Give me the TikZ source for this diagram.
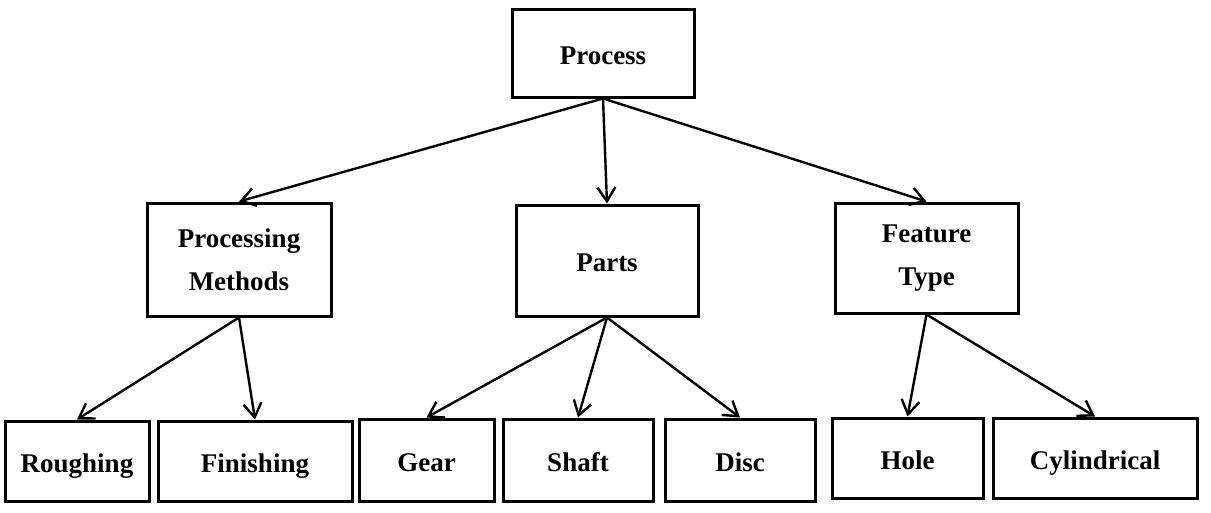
\documentclass[tikz,border=0pt]{standalone}
\usepackage{fontspec}
\setmainfont{Liberation Serif}
\usetikzlibrary{arrows.meta}
\begin{document}
\begin{tikzpicture}[x=1pt,y=-1pt,
  box/.style={draw=black, line width=3pt, rectangle, inner sep=0pt, align=center,
    font=\fontsize{27}{43}\selectfont\bfseries, text=black},
  one/.style={text height=22pt, text depth=0pt},
  conn/.style={line width=2.4pt, -{Straight Barb[length=14pt,width=18pt,line width=2.4pt]}}]
\useasboundingbox (0,0) rectangle (1211,512);
\node[box, one, minimum width=182pt, minimum height=88pt] (process) at (603,53) {Process};
\node[box, minimum width=184pt, minimum height=113pt] (pm) at (239,259.5) {Processing\\Methods};
\node[box, one, minimum width=182pt, minimum height=111pt] (parts) at (607,260.5) {Parts};
\node[box, minimum width=183pt, minimum height=110pt] (ft) at (926.5,258) {Feature\\Type};
\node[box, one, minimum width=144pt, minimum height=80pt] (rough) at (77,461) {Roughing};
\node[box, one, minimum width=194pt, minimum height=80pt] (finish) at (255,461) {Finishing};
\node[box, one, minimum width=135pt, minimum height=82pt] (gear) at (426.5,460) {Gear};
\node[box, one, minimum width=150pt, minimum height=82pt] (shaft) at (578,460) {Shaft};
\node[box, one, minimum width=150pt, minimum height=82pt] (disc) at (740,460) {Disc};
\node[box, one, minimum width=151pt, minimum height=80pt] (hole) at (907.5,458) {Hole};
\node[box, one, minimum width=204pt, minimum height=80pt] (cyl) at (1095,458) {Cylindrical};
\draw[conn] (process.south) -- (pm.north);
\draw[conn] (process.south) -- (parts.north);
\draw[conn] (process.south) -- (ft.north);
\draw[conn] (pm.south) -- (rough.north);
\draw[conn] (pm.south) -- (finish.north);
\draw[conn] (parts.south) -- (gear.north);
\draw[conn] (parts.south) -- (shaft.north);
\draw[conn] (parts.south) -- (disc.north);
\draw[conn] (ft.south) -- (hole.north);
\draw[conn] (ft.south) -- (cyl.north);
\end{tikzpicture}
\end{document}
